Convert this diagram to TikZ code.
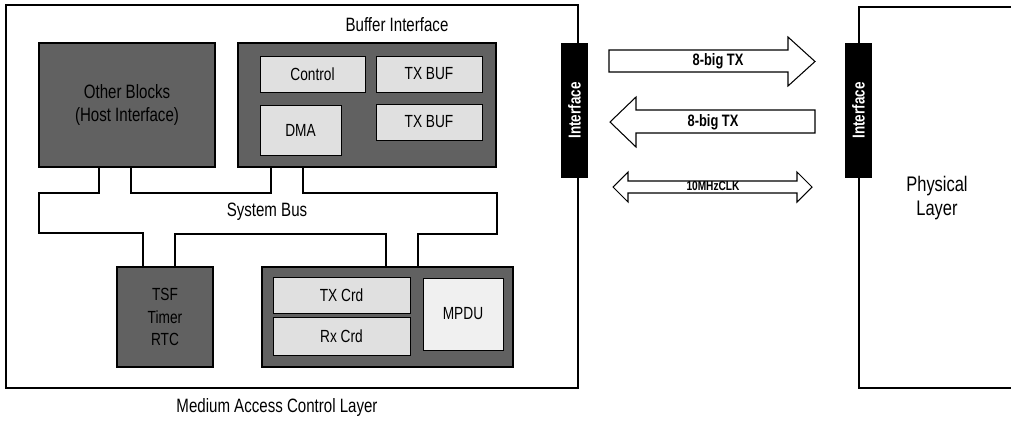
\documentclass[tikz,border=0pt]{standalone}
\usepackage{fontspec}
\setmainfont{Liberation Sans}[FakeStretch=0.78]
\usetikzlibrary{positioning,fit}

\tikzset{
  darkbox/.style={draw=black, line width=0.6pt, fill=black!62, inner sep=0pt},
  litebox/.style={draw=black, line width=0.5pt, fill=black!12, inner sep=0pt},
  boxtext/.style={label={[align=center, font=\fontsize{10}{11}\selectfont]center:#1}},
  ifbar/.style={fill=black, text=white, font=\bfseries\fontsize{9.8}{10}\selectfont, rotate=90,
    minimum width=2.7cm, minimum height=0.54cm, inner sep=0pt},
  bigarrow/.style={draw=black, line width=0.6pt, fill=white},
  arrlbl/.style={font=\bfseries\fontsize{9.4}{10}\selectfont, inner sep=1pt},
  bus/.style={draw=black, line width=0.6pt},
}

\begin{document}
\begin{tikzpicture}[x=0.02cm, y=-0.02cm, font=\fontsize{11}{13}\selectfont]
  \useasboundingbox (0,0) rectangle (1011,427);

  % MAC layer
  \node[draw, line width=0.6pt, fit={(6,5) (578,388)}, inner sep=0pt] (mac) {};
  \node (macname) at (277,407) {Medium Access Control Layer};

  \node[darkbox, fit={(39,43) (215,167)},
    label={[align=center, font=\fontsize{11}{13}\selectfont]center:Other Blocks\\(Host Interface)}] (other) {};
  \node[darkbox, fit={(238,43) (496,167)}] (buf) {};
  \node (bufname) at (397,25) {Buffer Interface};
  \node[litebox, fit={(260,56) (365,92)}, boxtext=Control] (ctrl) {};
  \node[litebox, fit={(376,56) (482,92)}, boxtext=TX BUF] (txbufa) {};
  \node[litebox, fit={(260,105) (341,155)}, boxtext=DMA] (dma) {};
  \node[litebox, fit={(376,104) (482,140)}, boxtext=TX BUF] (txbufb) {};

  \node[darkbox, fit={(117,267) (213,367)},
    label={[align=center, font=\fontsize{10}{13}\selectfont]center:TSF\\Timer\\RTC}] (tsf) {};
  \node[darkbox, fit={(262,267) (513,367)}] (crd) {};
  \node[litebox, fit={(273,277) (410,313)}, boxtext=TX Crd] (txcrd) {};
  \node[litebox, fit={(273,317) (410,355)}, boxtext=Rx Crd] (rxcrd) {};
  \node[litebox, fill=black!6, fit={(423,278) (503,350)}, boxtext=MPDU] (mpdu) {};

  % system bus
  \draw[bus] (other.south -| 99,0) |- (39,193) -- (39,233) -| (tsf.north -| 143,0);
  \draw[bus] (tsf.north -| 175,0) -- (175,234) -| (crd.north -| 386,0);
  \draw[bus] (crd.north -| 418,0) |- (497,234) -- (497,193) -| (buf.south -| 303,0);
  \draw[bus] (buf.south -| 271,0) -- (271,193) -| (other.south -| 131,0);
  \node (busname) at (267,212) {System Bus};

  % physical layer
  \draw[line width=0.6pt] (1011,7) -| (859,388) -- (1011,388);
  \node[align=center, font=\fontsize{12}{14}\selectfont] (phy) at (937,198) {Physical\\Layer};

  \node[ifbar] (ifmac) at (574.5,110.5) {Interface};
  \node[ifbar] (ifphy) at (858.5,110.5) {Interface};

  % signals
  \draw[bigarrow] (609,50) -- (788,50) -- (788,37) -- (815,61.5) -- (788,86) -- (788,72) -- (609,72) -- cycle;
  \node[arrlbl] (txa) at (718,61) {8-big TX};
  \draw[bigarrow] (815,110) -- (636,110) -- (636,97) -- (610,122) -- (636,147) -- (636,133) -- (815,133) -- cycle;
  \node[arrlbl] (txb) at (713,122) {8-big TX};
  \draw[bigarrow] (613,187) -- (628,172) -- (628,181) -- (797,181) -- (797,172) -- (812,187)
    -- (797,202) -- (797,193) -- (628,193) -- (628,202) -- cycle;
  \node[arrlbl, font=\bfseries\fontsize{7.4}{8}\selectfont] (clk) at (713,186) {10MHzCLK};
\end{tikzpicture}
\end{document}
